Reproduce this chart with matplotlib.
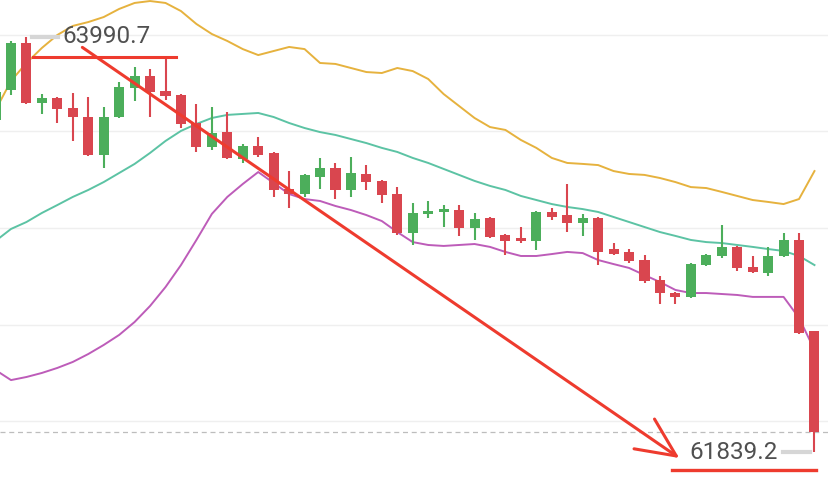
import numpy as np
import matplotlib
matplotlib.use("Agg")
import matplotlib.pyplot as plt

# candle data (open, high, low, close)
opens = [63559.5, 63715.0, 63958.5, 63647.6, 63673.5, 63621.7, 63575.1, 63378.2, 63575.1, 63725.4,
         63787.5, 63709.8, 63689.1, 63544.0, 63419.7, 63497.4, 63357.5, 63424.8, 63388.6, 63202.1,
         63176.1, 63264.2, 63310.8, 63196.9, 63279.8, 63243.5, 63176.1, 62974.1, 63072.5, 63082.9,
         63093.2, 63000.0, 63051.8, 62963.7, 62948.1, 62932.6, 63082.9, 63067.3, 63025.9, 63051.8,
         62891.1, 62875.6, 62834.2, 62730.5, 62663.2, 62642.5, 62808.3, 62854.9, 62901.5, 62797.9,
         62766.8, 62854.9, 62937.8, 62466.3]
highs = [63725.4, 63968.9, 63990.7, 63694.3, 63678.7, 63699.4, 63678.7, 63626.9, 63756.4, 63834.2,
         63823.8, 63886.0, 63694.3, 63642.5, 63626.9, 63601.0, 63435.2, 63471.5, 63393.7, 63295.3,
         63279.8, 63362.7, 63336.8, 63367.8, 63326.4, 63248.7, 63212.4, 63129.5, 63139.9, 63119.1,
         63119.1, 63077.7, 63057.0, 62968.9, 63005.1, 63088.1, 63103.6, 63227.9, 63072.5, 63057.0,
         62922.2, 62891.1, 62860.0, 62751.3, 62668.4, 62818.6, 62865.3, 63015.5, 62906.7, 62854.9,
         62901.5, 62974.1, 62974.1, 62466.3]
lows = [63544.0, 63689.1, 63642.5, 63590.6, 63544.0, 63450.7, 63373.0, 63310.8, 63569.9, 63658.0,
        63575.1, 63663.2, 63518.1, 63393.7, 63404.1, 63357.5, 63336.8, 63367.8, 63160.6, 63103.6,
        63160.6, 63202.1, 63150.2, 63160.6, 63196.9, 63129.5, 62963.7, 62911.9, 63051.8, 63005.1,
        62958.5, 62937.8, 62948.1, 62860.0, 62922.2, 62886.0, 63041.4, 62979.2, 62958.5, 62808.3,
        62860.0, 62818.6, 62715.0, 62606.0, 62606.0, 62637.3, 62803.1, 62844.5, 62777.2, 62766.8,
        62751.3, 62849.7, 62450.7, 61839.2]
closes = [63704.6, 63958.5, 63647.6, 63673.5, 63616.5, 63575.1, 63378.2, 63575.1, 63730.5, 63787.5,
          63704.6, 63683.9, 63538.8, 63419.7, 63492.2, 63362.7, 63424.8, 63378.2, 63196.9, 63176.1,
          63274.6, 63310.8, 63196.9, 63284.9, 63238.3, 63171.0, 62974.1, 63077.7, 63088.1, 63098.4,
          63000.0, 63046.6, 62953.3, 62932.6, 62932.6, 63082.9, 63057.0, 63025.9, 63051.8, 62875.6,
          62865.3, 62829.0, 62725.4, 62663.2, 62642.5, 62813.4, 62860.0, 62901.5, 62792.7, 62772.0,
          62854.9, 62937.8, 62455.9, 61943.0]

# bollinger bands
boll_upper = [63611, 63762, 63855, 63933, 64000, 64047, 64067, 64093, 64135, 64166, 64176, 64166,
              64124, 64057, 64005, 63969, 63927, 63896, 63917, 63938, 63927, 63855, 63850, 63829,
              63808, 63803, 63829, 63813, 63772, 63694, 63632, 63570, 63523, 63508, 63456, 63415,
              63363, 63337, 63332, 63326, 63295, 63280, 63275, 63259, 63238, 63212, 63207, 63187,
              63166, 63145, 63135, 63124, 63150, 63295]
boll_mid = [62933, 62995, 63031, 63078, 63119, 63161, 63197, 63238, 63285, 63332, 63389, 63451,
            63503, 63539, 63570, 63586, 63591, 63596, 63575, 63544, 63518, 63497, 63482, 63461,
            63440, 63415, 63394, 63363, 63337, 63306, 63275, 63244, 63218, 63197, 63166, 63145,
            63124, 63109, 63098, 63083, 63057, 63031, 63005, 62979, 62959, 62938, 62927, 62922,
            62912, 62902, 62891, 62881, 62855, 62808]
boll_lower = [62264, 62212, 62228, 62249, 62275, 62306, 62347, 62394, 62446, 62513, 62596, 62694,
              62808, 62938, 63073, 63161, 63228, 63290, 63233, 63176, 63150, 63140, 63114, 63093,
              63067, 63036, 62979, 62927, 62912, 62907, 62912, 62917, 62902, 62876, 62855, 62855,
              62865, 62876, 62870, 62834, 62813, 62793, 62756, 62720, 62679, 62663, 62663, 62658,
              62653, 62643, 62643, 62643, 62534, 62368]

grid_levels = [64000, 63500, 63000, 62500, 62000]
high_label = "63990.7"
low_label = "61839.2"
high_price = 63990.7
low_price = 61839.2

RED = "#d9464f"
GREEN = "#4cae5b"
MARK = "#ee3b2e"

fig = plt.figure(figsize=(8.29, 4.84), dpi=100)
ax = fig.add_axes([0, 0, 1, 1])
ax.set_xlim(0.288, 53.94)
ax.set_ylim(61673.6, 64181.3)
ax.axis("off")

for lv in grid_levels:
    ax.axhline(lv, color="#efefef", lw=1, zorder=0)

x = np.arange(len(opens))

ax.plot(x, boll_upper, color="#e6b23e", lw=1.4, zorder=2)
ax.plot(x, boll_mid, color="#5cc3a4", lw=1.4, zorder=2)
ax.plot(x, boll_lower, color="#bd5cb9", lw=1.4, zorder=2)

# candles
body_w = 0.65
for i in x:
    o, h, l, c = opens[i], highs[i], lows[i], closes[i]
    col = GREEN if c >= o else RED
    ax.vlines(i, l, h, color=col, lw=1.5, zorder=3)
    bottom = min(o, c)
    height = max(abs(c - o), 8)
    ax.add_patch(plt.Rectangle((i - body_w / 2, bottom), body_w, height,
                               facecolor=col, edgecolor="none", zorder=3))

# last price dashed line
ax.axhline(closes[-1], color="#bdbdbd", lw=0.9, ls=(0, (4, 3)), zorder=1)

# high / low labels
ax.plot([2.36, 4.04], [high_price, high_price], color="#d6d6d6", lw=3, zorder=4)
ax.text(4.3, high_price, high_label, fontsize=17.5, color="#505050",
        va="center", ha="left", family="Roboto", zorder=5)
ax.text(50.6, low_price, low_label, fontsize=17.5, color="#505050",
        va="center", ha="right", family="Roboto", zorder=5)
ax.plot([50.95, 52.7], [low_price, low_price], color="#d6d6d6", lw=3, zorder=4)

# red marks drawn on the chart
ax.plot([2.42, 11.68], [highs[11], highs[11]], color=MARK, lw=2.2, zorder=6)
ax.annotate("", xy=(44.4, 61800), xytext=(5.47, 63944),
            arrowprops=dict(arrowstyle="->,head_length=1.4,head_width=0.65",
                            mutation_scale=20, color=MARK, lw=2.2), zorder=6)
ax.plot([43.8, 53.1], [61746, 61746], color=MARK, lw=2.4, zorder=6)

fig.savefig("out.png", dpi=100)
